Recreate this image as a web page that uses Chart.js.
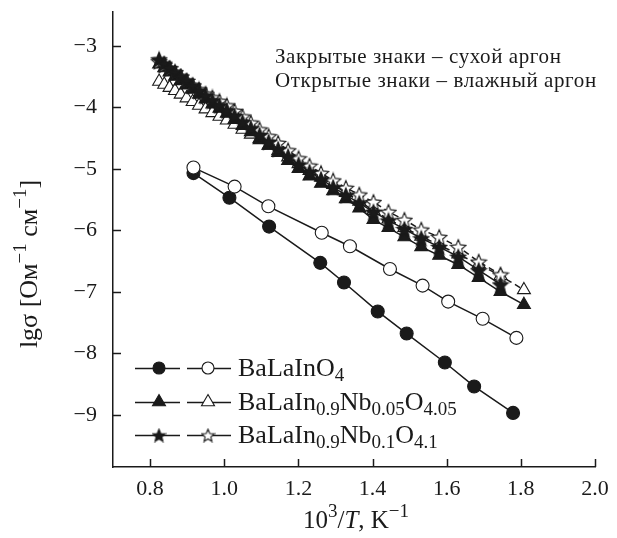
<!DOCTYPE html>
<html>
<head>
<meta charset="utf-8">
<script src="https://cdn.jsdelivr.net/npm/chart.js@4.4.1/dist/chart.umd.min.js"></script>
<style>
  html, body { margin: 0; padding: 0; background: #fff; }
</style>
</head>
<body>
<canvas id="sigmaChart" width="617" height="538"></canvas>
<script>
// 10^3/T, K^-1  (шаг 20 °C, 940 ... 280 °C)
const invT = [0.8244, 0.8382, 0.8525, 0.8673, 0.8826, 0.8985, 0.9149, 0.9320, 0.9497, 0.9681,
  0.9872, 1.0070, 1.0277, 1.0493, 1.0718, 1.0953, 1.1198, 1.1455, 1.1723, 1.2005,
  1.2300, 1.2610, 1.2937, 1.3280, 1.3643, 1.4025, 1.4430, 1.4859, 1.5314, 1.5798,
  1.6313, 1.6863, 1.7452, 1.8083];

// BaLaInO4
const invT_baseDry = [0.917, 1.014, 1.121, 1.259, 1.323, 1.414, 1.492, 1.595, 1.674, 1.779];
const lg_baseDry   = [-5.07, -5.47, -5.94, -6.53, -6.85, -7.32, -7.68, -8.15, -8.54, -8.97];
const invT_baseWet = [0.917, 1.028, 1.119, 1.263, 1.339, 1.447, 1.535, 1.604, 1.697, 1.788];
const lg_baseWet   = [-4.98, -5.29, -5.61, -6.04, -6.26, -6.63, -6.90, -7.16, -7.44, -7.75];

// BaLaIn0.9Nb0.05O4.05
const lg_nb005Dry = [-3.30, -3.36, -3.43, -3.50, -3.57, -3.64, -3.71, -3.79, -3.87, -3.95,
  -4.02, -4.10, -4.20, -4.30, -4.40, -4.51, -4.62, -4.74, -4.87, -5.00,
  -5.12, -5.24, -5.36, -5.49, -5.64, -5.83, -5.96, -6.11, -6.27, -6.41,
  -6.56, -6.77, -7.00, -7.21];
const lg_nb005Wet = [-3.58, -3.63, -3.68, -3.73, -3.79, -3.85, -3.91, -3.97, -4.03, -4.09,
  -4.15, -4.21, -4.28, -4.36, -4.44, -4.53, -4.62, -4.71, -4.81, -4.92,
  -5.03, -5.14, -5.26, -5.39, -5.53, -5.68, -5.82, -5.96, -6.10, -6.24,
  -6.39, -6.55, -6.74, -6.97];

// BaLaIn0.9Nb0.1O4.1 (до 300 °C)
const lg_nb01Dry = [-3.22, -3.29, -3.36, -3.43, -3.50, -3.57, -3.65, -3.73, -3.81, -3.89,
  -3.97, -4.05, -4.14, -4.24, -4.34, -4.45, -4.56, -4.68, -4.80, -4.93,
  -5.05, -5.17, -5.30, -5.43, -5.56, -5.70, -5.84, -5.98, -6.13, -6.27,
  -6.43, -6.65, -6.88];
const lg_nb01Wet = [-3.25, -3.31, -3.37, -3.43, -3.50, -3.57, -3.64, -3.71, -3.78, -3.84,
  -3.90, -3.97, -4.06, -4.15, -4.25, -4.36, -4.47, -4.58, -4.70, -4.83,
  -4.95, -5.07, -5.19, -5.31, -5.42, -5.54, -5.70, -5.83, -5.99, -6.11,
  -6.27, -6.51, -6.72];

const X_TICKS = [0.8, 1.0, 1.2, 1.4, 1.6, 1.8, 2.0];
const Y_TICKS = [-3, -4, -5, -6, -7, -8, -9];

const SERIF = '"Liberation Serif", "Times New Roman", serif';
const INK = '#1a1a1a';

const toPoints = (xs, ys) => ys.map((y, i) => ({ x: xs[i], y }));

// пятиконечная звезда как картинка для pointStyle
const makeStar = (filled, size) => {
  const c = document.createElement('canvas');
  c.width = size; c.height = size;
  const g = c.getContext('2d');
  const cx = size / 2, cy = size / 2 + 0.9;
  const R = size / 2 - 0.8, r = R * 0.45;
  g.beginPath();
  for (let i = 0; i < 10; i++) {
    const a = -Math.PI / 2 + i * Math.PI / 5;
    const rad = i % 2 ? r : R;
    const px = cx + Math.cos(a) * rad, py = cy + Math.sin(a) * rad;
    if (i === 0) g.moveTo(px, py); else g.lineTo(px, py);
  }
  g.closePath();
  g.fillStyle = filled ? INK : '#fff';
  g.fill();
  g.lineWidth = 1.1;
  g.strokeStyle = INK;
  g.stroke();
  return c;
};

const starFilled = makeStar(true, 18);
const starOpen = makeStar(false, 18);
const starFilledSmall = makeStar(true, 15);
const starOpenSmall = makeStar(false, 15);

const series = (data, style, filled, radius, dashed) => ({
  data,
  showLine: true,
  borderColor: INK,
  borderWidth: 1.5,
  borderDash: dashed ? [6, 4] : [],
  pointStyle: style,
  pointRadius: radius,
  pointHoverRadius: radius,
  pointBorderWidth: 1.1,
  pointBorderColor: INK,
  pointBackgroundColor: filled ? INK : '#fff',
  tension: 0
});

// первый набор рисуется последним (поверх остальных)
const datasets = [
  series(toPoints(invT, lg_nb01Dry), starFilled, true, 8, false),
  series(toPoints(invT, lg_nb01Wet), starOpen, false, 8, true),
  series(toPoints(invT, lg_nb005Dry), 'triangle', true, 7.5, false),
  series(toPoints(invT, lg_nb005Wet), 'triangle', false, 7.5, true),
  series(toPoints(invT_baseWet, lg_baseWet), 'circle', false, 6.5, false),
  series(toPoints(invT_baseDry, lg_baseDry), 'circle', true, 6.5, false)
];

// текст с индексами: [строка, 'sub' | 'sup' | 'it' | '']
const drawRuns = (ctx, runs, x, y, size, dry) => {
  let cx = x;
  runs.forEach(([txt, kind]) => {
    const small = kind === 'sub' || kind === 'sup';
    const fs = small ? Math.round(size * 0.74) : size;
    ctx.font = `${kind === 'it' ? 'italic ' : ''}${fs}px ${SERIF}`;
    const dy = kind === 'sub' ? size * 0.28 : kind === 'sup' ? -size * 0.36 : 0;
    if (!dry) ctx.fillText(txt, cx, y + dy);
    cx += ctx.measureText(txt).width;
  });
  return cx - x;
};

const legendRows = [
  { y: 368, kind: 'circle', runs: [['BaLaInO', ''], ['4', 'sub']] },
  { y: 402, kind: 'triangle',
    runs: [['BaLaIn', ''], ['0.9', 'sub'], ['Nb', ''], ['0.05', 'sub'], ['O', ''], ['4.05', 'sub']] },
  { y: 435, kind: 'star',
    runs: [['BaLaIn', ''], ['0.9', 'sub'], ['Nb', ''], ['0.1', 'sub'], ['O', ''], ['4.1', 'sub']] }
];

const drawMarker = (ctx, kind, filled, x, y) => {
  if (kind === 'star') {
    const img = filled ? starFilledSmall : starOpenSmall;
    ctx.drawImage(img, x - img.width / 2, y - img.height / 2);
    return;
  }
  ctx.fillStyle = filled ? INK : '#fff';
  ctx.strokeStyle = INK;
  ctx.lineWidth = 1.1;
  Chart.helpers.drawPoint(ctx, { pointStyle: kind, radius: kind === 'circle' ? 6 : 7.5, rotation: 0, borderWidth: 1.1 }, x, y);
};

const decorPlugin = {
  id: 'decor',
  afterDraw(chart) {
    const { ctx, chartArea, scales } = chart;
    ctx.save();
    ctx.strokeStyle = INK;
    ctx.fillStyle = INK;
    ctx.lineWidth = 1.5;
    ctx.setLineDash([]);

    // внутренние засечки
    X_TICKS.forEach(v => {
      const px = Math.round(scales.x.getPixelForValue(v)) + 0.5;
      ctx.beginPath();
      ctx.moveTo(px, chartArea.bottom);
      ctx.lineTo(px, chartArea.bottom - 8);
      ctx.stroke();
    });
    Y_TICKS.forEach(v => {
      const py = Math.round(scales.y.getPixelForValue(v)) + 0.5;
      ctx.beginPath();
      ctx.moveTo(chartArea.left, py);
      ctx.lineTo(chartArea.left + 8, py);
      ctx.stroke();
    });

    ctx.textBaseline = 'middle';
    ctx.textAlign = 'left';

    // подпись оси X
    const xRuns = [['10', ''], ['3', 'sup'], ['/', ''], ['T', 'it'], [', K', ''], ['\u22121', 'sup']];
    const wx = drawRuns(ctx, xRuns, 0, 0, 25, true);
    drawRuns(ctx, xRuns, (chartArea.left + chartArea.right) / 2 - wx / 2 + 2, 521, 25);

    // подпись оси Y
    ctx.save();
    ctx.translate(30, 264);
    ctx.rotate(-Math.PI / 2);
    const yRuns = [['lg\u03c3 [Ом', ''], ['\u22121', 'sup'], [' см', ''], ['\u22121', 'sup'], [']', '']];
    const wy = drawRuns(ctx, yRuns, 0, 0, 26, true);
    drawRuns(ctx, yRuns, -wy / 2, 0, 26);
    ctx.restore();

    // пояснение к знакам
    ctx.font = `21px ${SERIF}`;
    ctx.letterSpacing = '0.6px';
    ctx.fillText('Закрытые знаки \u2013 сухой аргон', 275, 57);
    ctx.fillText('Открытые знаки \u2013 влажный аргон', 275, 81);
    ctx.letterSpacing = '0px';

    // легенда
    legendRows.forEach(row => {
      const y = Math.round(row.y) + 0.5;
      ctx.strokeStyle = INK;
      ctx.lineWidth = 1.5;
      ctx.beginPath();
      ctx.moveTo(135, y); ctx.lineTo(180, y);
      ctx.moveTo(187, y); ctx.lineTo(231, y);
      ctx.stroke();
      drawMarker(ctx, row.kind, true, 159, row.y);
      drawMarker(ctx, row.kind, false, 208, row.y);
      ctx.fillStyle = INK;
      drawRuns(ctx, row.runs, 238, row.y + 1, 26);
    });
    ctx.restore();
  }
};

// без запаса под подписи крайних делений
const noEdgePadding = s => {
  s.paddingTop = 0; s.paddingBottom = 0;
  s.paddingLeft = 0; s.paddingRight = 0;
};

new Chart(document.getElementById('sigmaChart').getContext('2d'), {
  type: 'scatter',
  data: { datasets },
  options: {
    responsive: false,
    animation: false,
    events: [],
    layout: { padding: { top: 12, right: 22, left: 0, bottom: 0 } },
    plugins: {
      legend: { display: false },
      title: { display: false },
      tooltip: { enabled: false }
    },
    scales: {
      x: {
        type: 'linear',
        min: 0.7,
        max: 2.0,
        afterBuildTicks: s => { s.ticks = X_TICKS.map(v => ({ value: v })); },
        afterFit: s => { s.height = 71; noEdgePadding(s); },
        ticks: {
          color: INK,
          padding: 9,
          maxRotation: 0,
          autoSkip: false,
          font: { family: SERIF, size: 22 },
          callback: v => Number(v).toFixed(1)
        },
        grid: { display: true, drawOnChartArea: false, drawTicks: false },
        border: { color: INK, width: 1.5 }
      },
      y: {
        type: 'linear',
        min: -9.85,
        max: -2.45,
        afterBuildTicks: s => { s.ticks = Y_TICKS.map(v => ({ value: v })); },
        afterFit: s => { s.width = 113; noEdgePadding(s); },
        ticks: {
          color: INK,
          padding: 16,
          autoSkip: false,
          font: { family: SERIF, size: 22 },
          callback: v => '\u2212' + Math.abs(v)
        },
        grid: { display: true, drawOnChartArea: false, drawTicks: false },
        border: { color: INK, width: 1.5 }
      }
    }
  },
  plugins: [decorPlugin]
});
</script>
</body>
</html>
